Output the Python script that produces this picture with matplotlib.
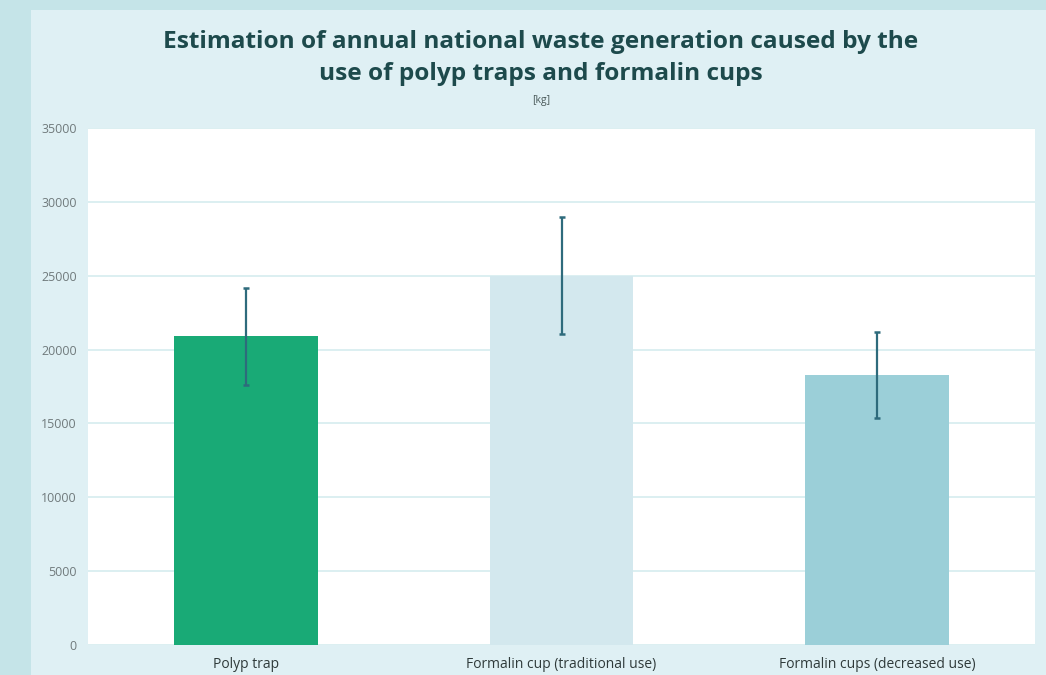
import numpy as np
from matplotlib import pyplot as plt
from matplotlib.patches import Rectangle

plt.rcParams['font.family'] = ['Open Sans', 'DejaVu Sans']

categories = ['Polyp trap', 'Formalin cup (traditional use)', 'Formalin cups (decreased use)']
values = [20900, 25000, 18300]
errors = [3300, 3950, 2900]
bar_colors = ['#19aa76', '#d3e8ee', '#9bcfd8']
yticks = [0, 5000, 10000, 15000, 20000, 25000, 30000, 35000]

fig = plt.figure(figsize=(10.46, 6.75), dpi=100, facecolor='#c5e4e8')

# 内层浅色面板
fig.patches.append(Rectangle((31 / 1046, 0), 1 - 31 / 1046, 665 / 675,
                             transform=fig.transFigure, facecolor='#dff0f4',
                             edgecolor='none', zorder=-10))

ax = fig.add_axes([88 / 1046, 30 / 675, 947 / 1046, 517 / 675])
ax.set_facecolor('white')

x = np.arange(len(categories))
ax.bar(x, values, width=0.455, color=bar_colors, zorder=2,
       yerr=errors, ecolor='#2e6b7c', capsize=2.5,
       error_kw=dict(elinewidth=1.6, capthick=1.8, zorder=3))

ax.set_xlim(-0.5, 2.5)
ax.set_ylim(0, 35000)
ax.set_yticks(yticks)
ax.set_xticks(x, categories)
ax.grid(axis='y', color='#d6ecef', linewidth=1.2, zorder=1)
ax.set_axisbelow(True)

for s in ax.spines.values():
    s.set_visible(False)
ax.tick_params(axis='y', length=0, pad=8, labelsize=9, labelcolor='#707a7c')
ax.tick_params(axis='x', length=0, pad=9, labelsize=10, labelcolor='#2f3a3a')

# 标题
fig.text(541 / 1046, 1 - 58 / 675,
         'Estimation of annual national waste generation caused by the\nuse of polyp traps and formalin cups',
         ha='center', va='center', fontsize=17.6, fontweight='bold', color='#1d4a4c',
         linespacing=1.5)
fig.text(541 / 1046, 1 - 101 / 675, '[kg]', ha='center', va='center',
         fontsize=7.5, color='#4a5a5a')

plt.savefig('out.png', dpi=100, facecolor=fig.get_facecolor())
